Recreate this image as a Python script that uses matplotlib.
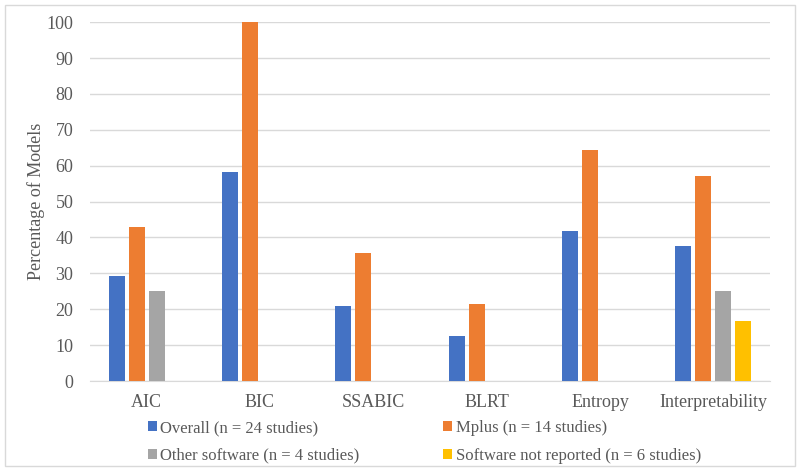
import numpy as np
import matplotlib.pyplot as plt
from matplotlib.patches import Rectangle

plt.rcParams['font.family'] = ['Liberation Serif', 'DejaVu Serif']

categories = ['AIC', 'BIC', 'SSABIC', 'BLRT', 'Entropy', 'Interpretability']
overall = [29.2, 58.3, 20.8, 12.5, 41.7, 37.5]
mplus = [42.9, 100, 35.7, 21.4, 64.3, 57.1]
other = [25, 0, 0, 0, 0, 25]
not_reported = [0, 0, 0, 0, 0, 16.7]

series = [overall, mplus, other, not_reported]
labels = ['Overall (n = 24 studies)', 'Mplus (n = 14 studies)',
          'Other software (n = 4 studies)', 'Software not reported (n = 6 studies)']
colors = ['#4472C4', '#ED7D31', '#A5A5A5', '#FFC000']

text_col = '#595959'

fig = plt.figure(figsize=(8, 4.71), dpi=100)
ax = fig.add_axes([0.1125, 0.191, 0.85, 0.762])

x = np.arange(len(categories))
w = 0.142
step = 0.177
handles = []
for i, (vals, lab, c) in enumerate(zip(series, labels, colors)):
    h = ax.bar(x + (i - 1.5) * step, vals, w, color=c, label=lab, zorder=3)
    handles.append(h)

ax.set_xlim(-0.5, len(categories) - 0.5)
ax.set_ylim(0, 100)
ax.set_yticks(range(0, 101, 10))
ax.yaxis.grid(True, color='#D9D9D9', linewidth=1, zorder=0)
ax.set_xticks(x)
ax.set_xticklabels(categories)
ax.tick_params(axis='both', length=0, labelsize=13, labelcolor=text_col)
ax.tick_params(axis='x', pad=9)
ax.tick_params(axis='y', pad=12)
for s in ['top', 'right', 'left']:
    ax.spines[s].set_visible(False)
ax.spines['bottom'].set_color('#D9D9D9')
ax.set_ylabel('Percentage of Models', fontsize=13, color=text_col, labelpad=1)

# legend reads row by row: Overall, Mplus / Other, Not reported
order = [0, 2, 1, 3]
fig.legend(handles=[handles[i] for i in order], labels=[labels[i] for i in order],
           ncol=2, loc='upper left', bbox_to_anchor=(0.185, 0.108),
           frameon=False, fontsize=12, borderaxespad=0, borderpad=0,
           handlelength=0.55, handleheight=0.55, handletextpad=0.2,
           columnspacing=5.0, labelspacing=0.7, labelcolor=text_col)

fig.patches.append(Rectangle((0.006, 0.01), 0.988, 0.98, transform=fig.transFigure,
                             fill=False, edgecolor='#D9D9D9', linewidth=1))

fig.savefig('out.png', dpi=100)
